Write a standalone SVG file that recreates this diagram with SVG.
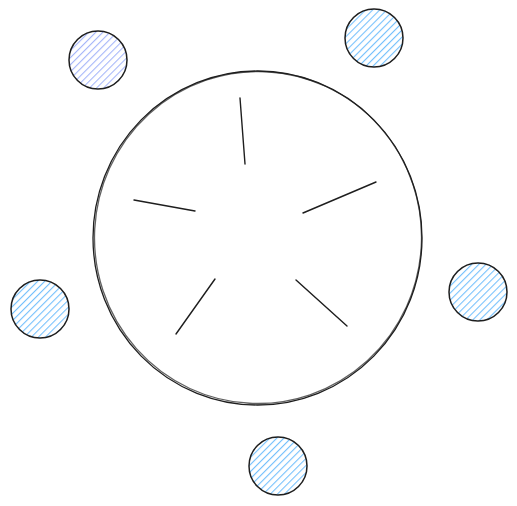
<svg xmlns="http://www.w3.org/2000/svg" width="517" height="506" viewBox="0 0 517 506">
<defs>
<pattern id="hb" patternUnits="userSpaceOnUse" width="5" height="5" patternTransform="rotate(45)">
<line x1="0" y1="0" x2="0" y2="5" stroke="#74c0fc" stroke-width="2.2"/>
</pattern>
<pattern id="hp" patternUnits="userSpaceOnUse" width="5" height="5" patternTransform="rotate(45)">
<line x1="0" y1="0" x2="0" y2="5" stroke="#a5b6f9" stroke-width="2.2"/>
</pattern>
<style>
.big{fill:none;stroke:#1e1e1e;stroke-width:1.3}
.node{stroke:#1e1e1e;stroke-width:1.5}
.ln{stroke:#1e1e1e;stroke-width:1.4;stroke-linecap:round;fill:none}
</style>
</defs>
<rect width="517" height="506" fill="#ffffff"/>
<g id="hub">
<ellipse class="big" cx="257.5" cy="238" rx="164.5" ry="167"/>
<ellipse class="big" cx="258" cy="237.5" rx="163.5" ry="166" transform="rotate(3 258 237.5)" stroke-opacity="0.7"/>
</g>
<g id="node-top-left"><circle class="node" cx="98" cy="60" r="29" fill="url(#hp)"/></g>
<g id="node-top-right"><circle class="node" cx="374" cy="38" r="29" fill="url(#hb)"/></g>
<g id="node-right"><circle class="node" cx="478" cy="292" r="29" fill="url(#hb)"/></g>
<g id="node-left"><circle class="node" cx="40" cy="309" r="29" fill="url(#hb)"/></g>
<g id="node-bottom"><circle class="node" cx="278" cy="466" r="29" fill="url(#hb)"/></g>
<g id="connectors">
<line class="ln" x1="240" y1="98" x2="245" y2="164"/>
<line class="ln" x1="134" y1="200" x2="195" y2="211"/>
<line class="ln" x1="303" y1="213" x2="376" y2="182"/>
<line class="ln" x1="215" y1="279" x2="176" y2="334"/>
<line class="ln" x1="296" y1="280" x2="347" y2="326"/>
</g>
</svg>
